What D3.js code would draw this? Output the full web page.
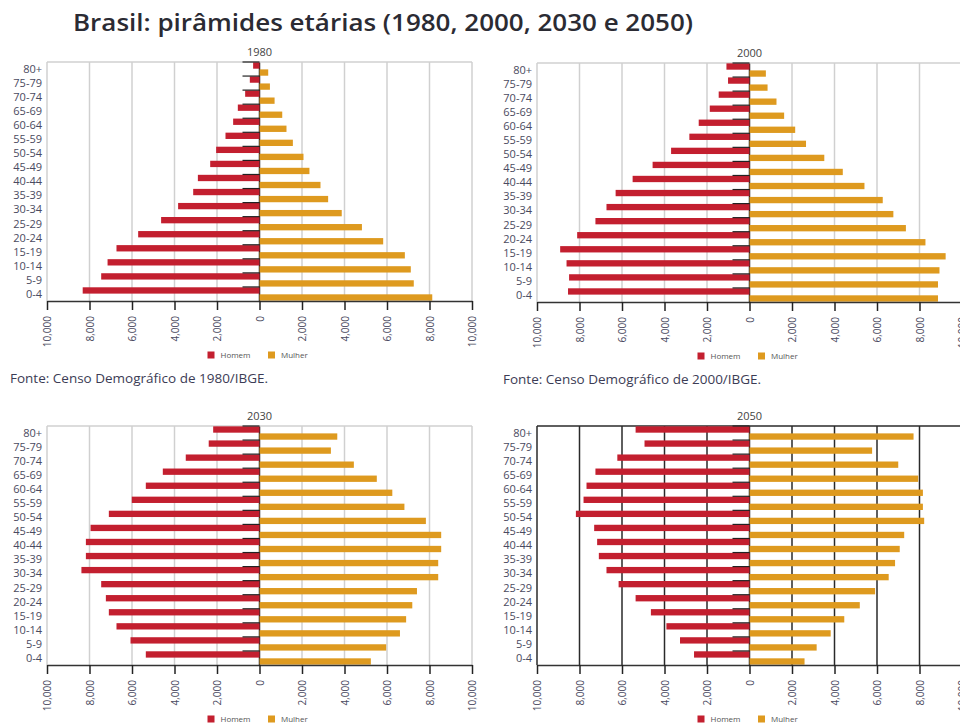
<!DOCTYPE html>
<html>
<head>
<meta charset="utf-8">
<script src="https://cdn.jsdelivr.net/npm/d3@7"></script>
<style>
  body { margin: 0; background: #fff; }
  svg { display: block; font-family: "Open Sans", sans-serif; }
</style>
</head>
<body>
<svg id="chart" width="960" height="727"></svg>
<script>
// age groups, top to bottom
const ageGroups = ["80+", "75-79", "70-74", "65-69", "60-64", "55-59", "50-54", "45-49",
  "40-44", "35-39", "30-34", "25-29", "20-24", "15-19", "10-14", "5-9", "0-4"];

const homem1980 = [300, 455, 675, 1020, 1240, 1600, 2040, 2320, 2900, 3120, 3830, 4630, 5710, 6730, 7150, 7450, 8320];
const mulher1980 = [410, 490, 710, 1070, 1270, 1570, 2070, 2350, 2870, 3230, 3870, 4820, 5820, 6840, 7120, 7260, 8130];

const homem2000 = [1085, 1010, 1450, 1870, 2390, 2830, 3690, 4560, 5500, 6300, 6730, 7250, 8110, 8910, 8610, 8490, 8540];
const mulher2000 = [770, 850, 1270, 1630, 2150, 2660, 3520, 4390, 5410, 6270, 6770, 7360, 8280, 9230, 8940, 8870, 8870];

const homem2030 = [2180, 2390, 3470, 4550, 5350, 6010, 7090, 7950, 8170, 8170, 8380, 7450, 7230, 7090, 6730, 6070, 5350];
const mulher2030 = [3660, 3360, 4440, 5520, 6250, 6820, 7830, 8550, 8550, 8410, 8410, 7410, 7190, 6900, 6610, 5960, 5240];

const homem2050 = [5360, 4940, 6220, 7250, 7670, 7810, 8170, 7310, 7170, 7090, 6730, 6160, 5360, 4640, 3910, 3270, 2610];
const mulher2050 = [7720, 5770, 7000, 7940, 8160, 8160, 8220, 7280, 7070, 6850, 6550, 5910, 5190, 4460, 3820, 3160, 2590];

const xTicks = [-10000, -8000, -6000, -4000, -2000, 0, 2000, 4000, 6000, 8000, 10000];
const sexes = ["Homem", "Mulher"];

const colors = { Homem: "#c31f2f", Mulher: "#de9a1f" };

const panels = [
  { year: "1980", homem: homem1980, mulher: mulher1980, left: 47, top: 62, grid: "#d0d0d0", fonte: "Fonte: Censo Demográfico de 1980/IBGE.", fx: 10 },
  { year: "2000", homem: homem2000, mulher: mulher2000, left: 537, top: 63, grid: "#d0d0d0", fonte: "Fonte: Censo Demográfico de 2000/IBGE.", fx: 503 },
  { year: "2030", homem: homem2030, mulher: mulher2030, left: 47, top: 426, grid: "#d0d0d0" },
  { year: "2050", homem: homem2050, mulher: mulher2050, left: 537, top: 426, grid: "#2a2a2a" }
];

const svg = d3.select("#chart");

svg.append("text")
  .attr("x", 73).attr("y", 31)
  .attr("textLength", 620).attr("lengthAdjust", "spacingAndGlyphs")
  .style("font-size", "23px").style("font-weight", 600).style("fill", "#2b2b33")
  .text("Brasil: pirâmides etárias (1980, 2000, 2030 e 2050)");

const plotW = 425, plotH = 239;

panels.forEach(p => {
  const g = svg.append("g");
  const x = d3.scaleLinear().domain([-10000, 10000]).range([p.left, p.left + plotW]);
  const y = d3.scaleBand().domain(ageGroups).range([p.top, p.top + plotH]);
  const sub = d3.scaleBand().domain(sexes).range([0, y.bandwidth()]).paddingInner(0.1).paddingOuter(0.05);
  const bottom = p.top + plotH;
  const x0 = x(0);

  // grid lines
  g.selectAll(".grid").data(xTicks).enter().append("line")
    .attr("x1", d => x(d)).attr("x2", d => x(d))
    .attr("y1", p.top).attr("y2", bottom)
    .attr("stroke", d => d === 0 ? "#222" : p.grid)
    .attr("stroke-width", 1.5);
  g.append("line")
    .attr("x1", x(-10000)).attr("x2", x(10000))
    .attr("y1", p.top).attr("y2", p.top)
    .attr("stroke", p.grid).attr("stroke-width", 1.5);

  // bars
  const rows = ageGroups.map((a, i) => ({ age: a, Homem: p.homem[i], Mulher: p.mulher[i] }));
  g.selectAll(".homem").data(rows).enter().append("rect")
    .attr("x", d => x(-d.Homem)).attr("width", d => x0 - x(-d.Homem))
    .attr("y", d => y(d.age) + sub("Homem")).attr("height", sub.bandwidth())
    .attr("fill", colors.Homem);
  g.selectAll(".mulher").data(rows).enter().append("rect")
    .attr("x", x0).attr("width", d => x(d.Mulher) - x0)
    .attr("y", d => y(d.age) + sub("Mulher")).attr("height", sub.bandwidth())
    .attr("fill", colors.Mulher);

  // y ticks at band boundaries
  g.selectAll(".ytick").data(ageGroups).enter().append("line")
    .attr("x1", x0 - 17).attr("x2", x0)
    .attr("y1", d => y(d)).attr("y2", d => y(d))
    .attr("stroke", "#222").attr("stroke-width", 1.2);

  // y labels
  g.selectAll(".ylab").data(ageGroups).enter().append("text")
    .attr("x", p.left - 5).attr("y", d => y(d) + y.bandwidth() / 2)
    .attr("dy", "0.35em").attr("text-anchor", "end")
    .style("font-size", "11px").style("fill", "#4a4a60")
    .text(d => d);

  // x axis
  const ax = g.append("g").attr("transform", `translate(0,${bottom})`)
    .call(d3.axisBottom(x).tickValues(xTicks).tickSize(9).tickSizeOuter(0)
      .tickFormat(d => d3.format(",")(Math.abs(d))));
  ax.select(".domain").attr("stroke", "#333").attr("stroke-width", 1.5);
  ax.selectAll(".tick line").attr("stroke", "#222").attr("stroke-width", 1.5);
  ax.selectAll(".tick text")
    .attr("transform", "rotate(-90)")
    .attr("x", -15).attr("y", 0).attr("dy", "0.35em")
    .attr("text-anchor", "end")
    .style("font-size", "10px").style("fill", "#4a4a60").style("font-family", "'Open Sans', sans-serif");

  // panel title
  g.append("text")
    .attr("x", x0).attr("y", p.top - 6).attr("text-anchor", "middle")
    .style("font-size", "11px").style("fill", "#444")
    .text(p.year);

  // legend
  const lg = g.append("g").attr("transform", `translate(${x0},${bottom + 54})`);
  const items = lg.selectAll("g").data(sexes).enter().append("g")
    .attr("transform", (d, i) => `translate(${i === 0 ? -52 : 8.5},0)`);
  items.append("rect").attr("x", 0).attr("y", -3.5).attr("width", 7).attr("height", 7)
    .attr("fill", d => colors[d]);
  items.append("text").attr("x", 13).attr("y", 0).attr("dy", "0.35em")
    .style("font-size", "8px").style("fill", "#555")
    .text(d => d);

  if (p.fonte) {
    g.append("text")
      .attr("x", p.fx).attr("y", bottom + 82)
      .style("font-size", "13.5px").style("fill", "#3c3c55")
      .text(p.fonte);
  }
});
</script>
</body>
</html>
